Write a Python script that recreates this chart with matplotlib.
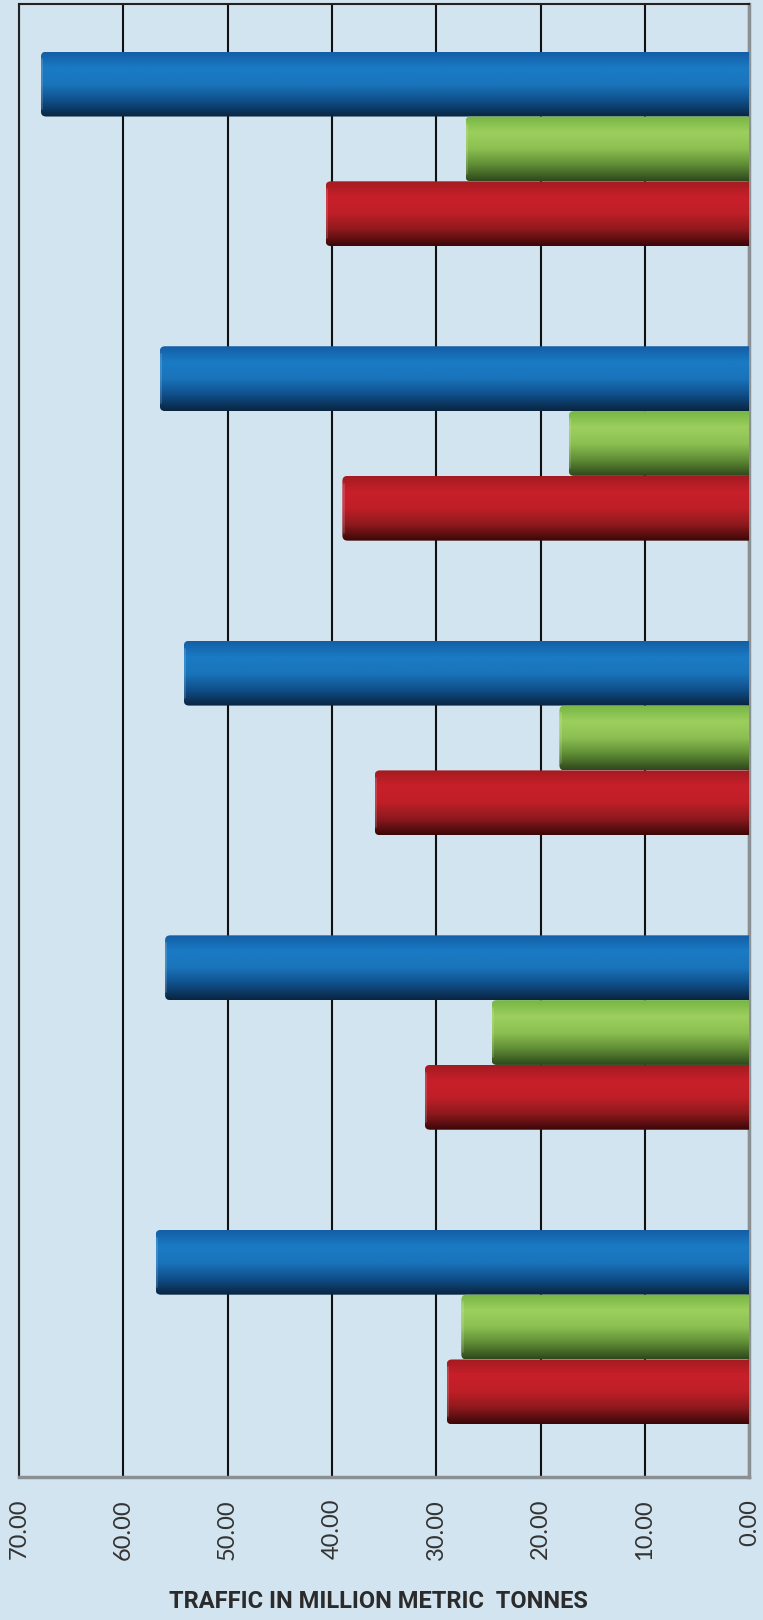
import numpy as np
import matplotlib
matplotlib.use("Agg")
import matplotlib.pyplot as plt
from matplotlib.colors import LinearSegmentedColormap
from matplotlib.patches import FancyBboxPatch

# values, top group first
groups = ["G1", "G2", "G3", "G4", "G5"]
blue_vals = [67.9, 56.5, 54.2, 56.0, 56.9]
green_vals = [27.2, 17.3, 18.2, 24.7, 27.6]
red_vals = [40.6, 39.0, 35.9, 31.1, 29.0]
xticks = [70, 60, 50, 40, 30, 20, 10, 0]
xlabel = "TRAFFIC IN MILLION METRIC  TONNES"

bg = "#d2e4ef"

# top -> bottom colour stops, cylinder look
shades = {
    "blue": ["#135ea6", "#1a7bc4", "#1a74bb", "#0f4f8a", "#0a2440"],
    "green": ["#76b544", "#9ccf5e", "#8cc052", "#5f8d35", "#2e471c"],
    "red": ["#a31b21", "#c8202a", "#bf1f27", "#8c191d", "#3a0707"],
}

fig = plt.figure(figsize=(7.63, 16.20), dpi=100, facecolor=bg)
ax = fig.add_axes([19 / 763, 143.3 / 1620, (749.3 - 19) / 763, (1616 - 143.3) / 1620])
ax.set_facecolor(bg)

y = np.arange(len(groups))
h = 0.22
series = [(blue_vals, "blue", -h), (green_vals, "green", 0.0), (red_vals, "red", h)]

ax.set_xlim(70, 0)
ax.set_ylim(len(groups) - 0.5, -0.5)

for vals, name, off in series:
    bars = ax.barh(y + off - 0.008, vals, height=h, color="none", edgecolor="none")
    cmap = LinearSegmentedColormap.from_list(name, shades[name])
    grad = np.linspace(0, 1, 256).reshape(-1, 1)
    for b in bars:
        x0 = b.get_x()
        w = b.get_width()
        yb = b.get_y()
        hh = b.get_height()
        shape = FancyBboxPatch((x0 - 1, yb), w + 1, hh,
                               boxstyle="round,pad=0,rounding_size=0.5",
                               mutation_aspect=0.034,
                               facecolor="none", edgecolor="none", zorder=3)
        ax.add_patch(shape)
        img = ax.imshow(grad, cmap=cmap, aspect="auto",
                        extent=(x0 + w, x0 - 1, yb + hh, yb),
                        zorder=3, interpolation="bicubic")
        img.set_clip_path(shape)
        # lighter rim on the rounded end
        ax.plot([x0 + w - 0.12, x0 + w - 0.12], [yb + hh * 0.12, yb + hh * 0.88],
                color="white", alpha=0.18, lw=1.2, zorder=4, solid_capstyle="round")

ax.set_xlim(70, 0)
ax.set_ylim(len(groups) - 0.5, -0.5)

ax.set_xticks(xticks)
ax.set_xticklabels([f"{t:.2f}" for t in xticks], rotation=90,
                   fontsize=17, color="#333333", family=["Lato", "DejaVu Sans"])
ax.tick_params(axis="x", length=0, pad=16)
ax.set_yticks([])
ax.grid(axis="x", color="#111111", lw=1.5, zorder=1)
ax.set_axisbelow(True)

for side in ["left", "top"]:
    ax.spines[side].set_color("#222222")
    ax.spines[side].set_linewidth(1.5)
for side in ["right", "bottom"]:
    ax.spines[side].set_color("#8a8f93")
    ax.spines[side].set_linewidth(2.5)

fig.text(378 / 763, 1 - 1601 / 1620, xlabel, ha="center", va="center",
         fontsize=17, fontweight="bold", color="#2b2b2b",
         family=["Roboto", "DejaVu Sans"])

fig.savefig("out.png", dpi=100, facecolor=bg)
